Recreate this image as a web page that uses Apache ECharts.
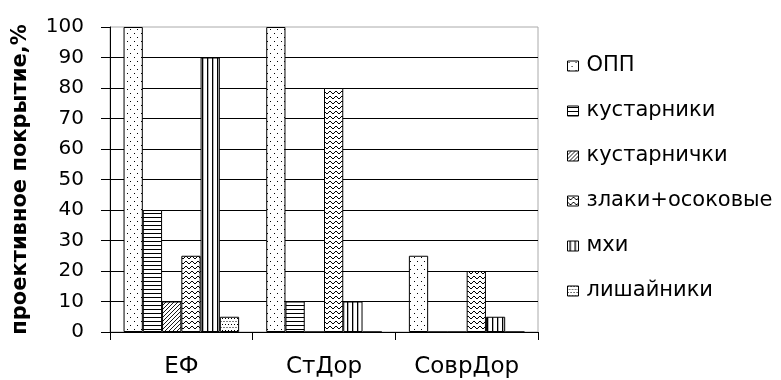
<!DOCTYPE html>
<html>
<head>
<meta charset="utf-8">
<script src="https://cdn.jsdelivr.net/npm/echarts@6/dist/echarts.min.js"></script>
<style>
html, body { margin: 0; padding: 0; background: #fff; }
#chart { width: 781px; height: 380px; }
</style>
</head>
<body>
<div id="chart"></div>
<script>
var categories = ['ЕФ', 'СтДор', 'СоврДор'];
var seriesNames = ['ОПП', 'кустарники', 'кустарнички', 'злаки+осоковые', 'мхи', 'лишайники'];
var opp = [100, 100, 25];
var kustarniki = [40, 10, 0];
var kustarnichki = [10, 0, 0];
var zlaki = [25, 80, 20];
var mhi = [90, 10, 5];
var lishainiki = [5, 0, 0];
var yTicks = [0, 10, 20, 30, 40, 50, 60, 70, 80, 90, 100];

// small canvas tiles for the hatch fills
function makeTile(w, h, draw) {
    var c = document.createElement('canvas');
    c.width = w;
    c.height = h;
    var ctx = c.getContext('2d');
    ctx.fillStyle = '#fff';
    ctx.fillRect(0, 0, w, h);
    ctx.fillStyle = '#000';
    ctx.strokeStyle = '#000';
    draw(ctx);
    return { image: c, repeat: 'repeat' };
}

var patterns = [
    makeTile(7, 8, function(ctx) {
        ctx.fillRect(1, 1, 1, 1);
        ctx.fillRect(4, 5, 1, 1);
    }),
    makeTile(4, 4, function(ctx) {
        ctx.fillRect(0, 1, 4, 1);
    }),
    makeTile(4, 4, function(ctx) {
        ctx.lineWidth = 0.9;
        for (var k = -1; k <= 1; k++) {
            ctx.beginPath();
            ctx.moveTo(k * 4, 4);
            ctx.lineTo(k * 4 + 4, 0);
            ctx.stroke();
        }
    }),
    makeTile(6, 5, function(ctx) {
        ctx.lineWidth = 1;
        ctx.beginPath();
        ctx.moveTo(0, 1);
        ctx.lineTo(3, 4);
        ctx.lineTo(6, 1);
        ctx.stroke();
    }),
    makeTile(5, 4, function(ctx) {
        ctx.fillRect(2, 0, 1.3, 4);
    }),
    makeTile(6, 6, function(ctx) {
        ctx.fillRect(0, 0, 1, 1);
        ctx.fillRect(3, 0, 1, 1);
        ctx.fillRect(1.5, 3, 1, 1);
        ctx.fillRect(4.5, 3, 1, 1);
    })
];

var values = [opp, kustarniki, kustarnichki, zlaki, mhi, lishainiki];
var font = 'DejaVu Sans, Verdana, sans-serif';

var series = seriesNames.map(function(name, i) {
    return {
        name: name,
        type: 'bar',
        data: values[i],
        barGap: 0,
        barCategoryGap: '19%',
        itemStyle: {
            color: patterns[i],
            borderColor: '#000',
            borderWidth: 1
        },
        emphasis: { disabled: true }
    };
});

var myChart = echarts.init(document.getElementById('chart'), null, { renderer: 'canvas' });
myChart.setOption({
    animation: false,
    backgroundColor: '#fff',
    textStyle: { fontFamily: font, color: '#000' },
    grid: {
        left: 110,
        right: 243,
        top: 27,
        bottom: 48,
        show: true,
        borderColor: '#aaa',
        borderWidth: 1,
        backgroundColor: 'transparent'
    },
    legend: {
        orient: 'vertical',
        left: 567,
        top: 54,
        padding: 0,
        itemWidth: 11,
        itemHeight: 10,
        itemGap: 21,
        icon: 'rect',
        data: seriesNames,
        textStyle: { fontFamily: font, fontSize: 21, lineHeight: 24, color: '#000', padding: [0, 0, 0, 3] },
        itemStyle: { borderColor: '#000', borderWidth: 1 }
    },
    xAxis: {
        type: 'category',
        data: categories,
        axisLine: { lineStyle: { color: '#000', width: 1 } },
        axisTick: { show: true, length: 8, lineStyle: { color: '#000' } },
        axisLabel: { fontFamily: font, fontSize: 23, color: '#000', margin: 24 },
        splitLine: { show: false }
    },
    yAxis: {
        type: 'value',
        min: 0,
        max: 100,
        interval: 10,
        name: 'проективное покрытие,%',
        nameLocation: 'middle',
        nameGap: 79,
        nameTextStyle: { fontFamily: font, fontSize: 21, fontWeight: 'bold', color: '#000' },
        axisLine: { show: true, lineStyle: { color: '#000', width: 1 } },
        axisTick: { show: true, length: 9, lineStyle: { color: '#000' } },
        axisLabel: {
            fontFamily: font, fontSize: 20, color: '#000', margin: 26,
            formatter: function(v) { return yTicks.indexOf(v) >= 0 ? String(v) : ''; }
        },
        splitLine: { show: true, showMaxLine: false, lineStyle: { color: '#000', width: 1 } }
    },
    series: series
});
</script>
</body>
</html>
